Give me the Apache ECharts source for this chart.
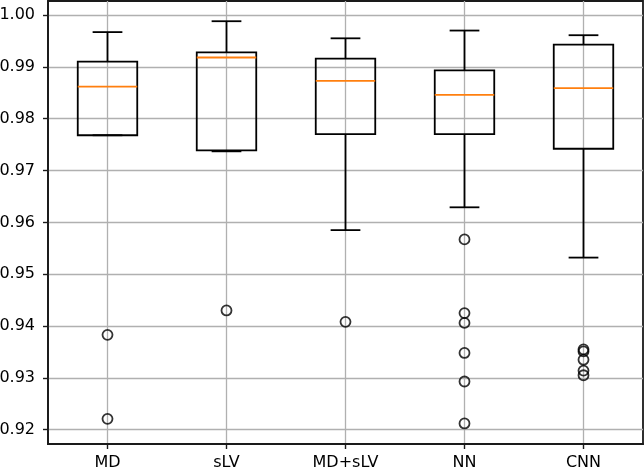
<!DOCTYPE html>
<html>
<head>
<meta charset="utf-8">
<script src="https://cdn.jsdelivr.net/npm/echarts@6/dist/echarts.min.js"></script>
<style>
html,body{margin:0;padding:0;background:#fff;}
#chart{width:644px;height:469px;}
</style>
</head>
<body>
<div id="chart"></div>
<script>
// Categories
var categories = ['MD', 'sLV', 'MD+sLV', 'NN', 'CNN'];
// Box statistics: [lower whisker, Q1, median, Q3, upper whisker]
var lowWhisker = [0.9768, 0.9737, 0.9585, 0.9629, 0.9532];
var q1Values   = [0.9768, 0.9739, 0.9770, 0.9770, 0.9742];
var medians    = [0.9862, 0.9918, 0.9873, 0.9846, 0.9859];
var q3Values   = [0.9910, 0.9928, 0.9916, 0.9893, 0.9943];
var highWhisker= [0.9967, 0.9988, 0.9955, 0.9970, 0.9961];
// Outliers per category
var outliersMD    = [0.9383, 0.9221];
var outliersSLV   = [0.9430];
var outliersMDSLV = [0.9408];
var outliersNN    = [0.9567, 0.9425, 0.9406, 0.9348, 0.9293, 0.9212];
var outliersCNN   = [0.9355, 0.9351, 0.9335, 0.9314, 0.9305];
// Y tick labels
var yTicks = [0.92, 0.93, 0.94, 0.95, 0.96, 0.97, 0.98, 0.99, 1.00];

var boxData = categories.map(function (c, i) {
  return [i, lowWhisker[i], q1Values[i], medians[i], q3Values[i], highWhisker[i]];
});
var outlierLists = [outliersMD, outliersSLV, outliersMDSLV, outliersNN, outliersCNN];
var outlierData = [];
outlierLists.forEach(function (list, i) {
  list.forEach(function (v) { outlierData.push([i, v]); });
});

var chart = echarts.init(document.getElementById('chart'), null, {renderer: 'canvas'});
var FONT = 'DejaVu Sans';
var option = {
  animation: false,
  backgroundColor: '#ffffff',
  grid: {
    left: 48, right: 1, top: 1, bottom: 25,
    containLabel: false,
    outerBoundsMode: 'none',
    show: true, borderColor: '#1a1a1a', borderWidth: 1.8, backgroundColor: 'transparent'
  },
  xAxis: {
    type: 'category',
    data: categories,
    boundaryGap: true,
    axisLine: {lineStyle: {color: '#1a1a1a', width: 1.8}},
    axisTick: {show: true, alignWithLabel: true, length: 5, lineStyle: {color: '#1a1a1a', width: 1.4}},
    axisLabel: {color: '#000', fontFamily: FONT, fontSize: 16, margin: 11},
    splitLine: {show: true, alignWithLabel: true, lineStyle: {color: '#b0b0b0', width: 1.3}}
  },
  yAxis: {
    type: 'value',
    min: 0.91724,
    max: 1.0027,
    axisLine: {show: true, lineStyle: {color: '#1a1a1a', width: 1.8}},
    axisTick: {show: true, length: 5, customValues: yTicks, lineStyle: {color: '#1a1a1a', width: 1.4}},
    axisLabel: {
      color: '#000', fontFamily: FONT, fontSize: 16, margin: 13,
      customValues: yTicks,
      formatter: function (v) { return v.toFixed(2); }
    },
    splitLine: {show: true, lineStyle: {color: '#b0b0b0', width: 1.3}}
  },
  series: [
    {
      type: 'custom',
      data: boxData,
      encode: {x: 0, y: [1, 2, 3, 4, 5]},
      z: 3,
      renderItem: function (params, api) {
        var xi = api.value(0);
        var band = api.size([1, 0])[0];
        var bw = band * 0.5, cw = band * 0.25;
        var pLow = api.coord([xi, api.value(1)]);
        var pQ1 = api.coord([xi, api.value(2)]);
        var pMed = api.coord([xi, api.value(3)]);
        var pQ3 = api.coord([xi, api.value(4)]);
        var pHigh = api.coord([xi, api.value(5)]);
        var cx = pQ1[0];
        var st = {stroke: '#000', lineWidth: 1.8, fill: null};
        return {
          type: 'group',
          children: [
            {type: 'line', shape: {x1: cx, y1: pQ3[1], x2: cx, y2: pHigh[1]}, style: st},
            {type: 'line', shape: {x1: cx, y1: pQ1[1], x2: cx, y2: pLow[1]}, style: st},
            {type: 'line', shape: {x1: cx - cw / 2, y1: pHigh[1], x2: cx + cw / 2, y2: pHigh[1]}, style: st},
            {type: 'line', shape: {x1: cx - cw / 2, y1: pLow[1], x2: cx + cw / 2, y2: pLow[1]}, style: st},
            {type: 'rect', shape: {x: cx - bw / 2, y: pQ3[1], width: bw, height: pQ1[1] - pQ3[1]}, style: {stroke: '#000', lineWidth: 1.8, fill: 'rgba(0,0,0,0)'}},
            {type: 'line', shape: {x1: cx - bw / 2, y1: pMed[1], x2: cx + bw / 2, y2: pMed[1]}, style: {stroke: '#ff7f0e', lineWidth: 1.8}}
          ]
        };
      }
    },
    {
      type: 'scatter',
      data: outlierData,
      symbol: 'circle',
      symbolSize: 10,
      z: 4,
      itemStyle: {color: 'rgba(0,0,0,0)', borderColor: '#000', borderWidth: 1.8}
    }
  ]
};
chart.setOption(option);
</script>
</body>
</html>
